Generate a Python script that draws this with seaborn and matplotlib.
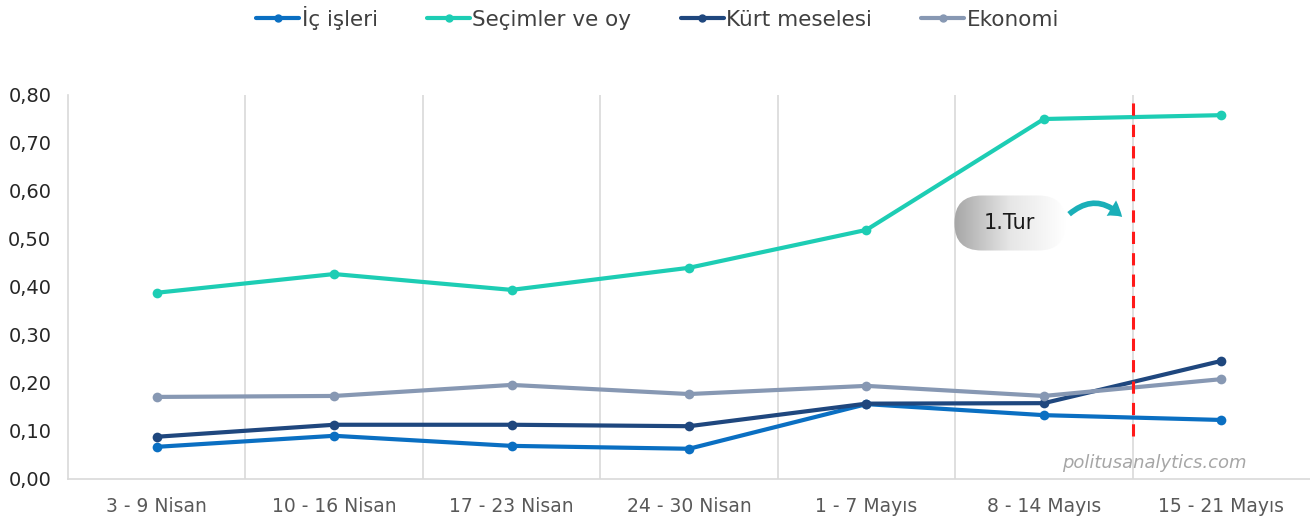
import numpy as np
import pandas as pd
import matplotlib
matplotlib.use("Agg")
import matplotlib.pyplot as plt
import seaborn as sns
from matplotlib.patches import FancyBboxPatch, FancyArrowPatch
from matplotlib.colors import LinearSegmentedColormap

categories = ["3 - 9 Nisan", "10 - 16 Nisan", "17 - 23 Nisan", "24 - 30 Nisan",
              "1 - 7 Mayıs", "8 - 14 Mayıs", "15 - 21 Mayıs"]
ic_isleri = [0.067, 0.090, 0.069, 0.063, 0.156, 0.133, 0.123]
secimler = [0.388, 0.427, 0.394, 0.440, 0.519, 0.750, 0.758]
kurt = [0.088, 0.113, 0.113, 0.110, 0.157, 0.158, 0.246]
ekonomi = [0.171, 0.173, 0.196, 0.177, 0.194, 0.173, 0.208]
series_names = ["İç işleri", "Seçimler ve oy", "Kürt meselesi", "Ekonomi"]
yticks = [0.0, 0.1, 0.2, 0.3, 0.4, 0.5, 0.6, 0.7, 0.8]

colors = ["#0A6FC2", "#1DCDB4", "#1F477E", "#8798B3"]

sns.set_style("white")
plt.rcParams['font.family'] = ['DejaVu Sans']

rows = []
for name, vals in zip(series_names, [ic_isleri, secimler, kurt, ekonomi]):
    for i, v in enumerate(vals):
        rows.append({"idx": i, "val": v, "series": name})
df = pd.DataFrame(rows)

fig = plt.figure(figsize=(13.1, 5.25), dpi=100)
ax = fig.add_axes([68 / 1310, (525 - 479) / 525, 1 - 68 / 1310, (479 - 95) / 525])

sns.lineplot(data=df, x="idx", y="val", hue="series", palette=colors,
             hue_order=series_names, marker="o", markersize=7, markeredgewidth=0,
             linewidth=3, ax=ax, legend=False)

ax.set_xlim(-0.5, 6.5)
ax.set_ylim(0, 0.8)
ax.set_xticks(range(len(categories)))
ax.set_xticklabels(categories, fontsize=13.5, color="#595959")
ax.set_yticks(yticks)
ax.set_yticklabels([f"{t:.2f}".replace(".", ",") for t in yticks], fontsize=14, color="#262626")
ax.tick_params(axis="y", pad=12, length=0)
ax.tick_params(axis="x", pad=13, length=0)
ax.set_xlabel("")
ax.set_ylabel("")
for b in np.arange(0.5, 6.5, 1.0):
    ax.axvline(b, color="#D9D9D9", lw=1.2, zorder=0)
for s in ["top", "right"]:
    ax.spines[s].set_visible(False)
for s in ["left", "bottom"]:
    ax.spines[s].set_color("#D9D9D9")
    ax.spines[s].set_linewidth(1.2)

# red dashed line
ax.plot([5.5, 5.5], [0.09, 0.8], color="#FF1A1A", lw=2.2, ls=(0, (4, 3)), zorder=5)

# watermark
ax.text(5.62, 0.033, "politusanalytics.com", fontsize=13, style="italic",
        color="#A6A6A6", ha="center", va="center")

# legend
handles = [plt.Line2D([0], [0], color=c, lw=3, marker="o", markersize=5) for c in colors]
fig.legend(handles, series_names, loc="center", bbox_to_anchor=(0.502, 1 - 18 / 525),
           ncol=4, frameon=False, fontsize=15.5, handlelength=2.0, handletextpad=0.1,
           columnspacing=2.3, labelcolor="#404040")

# 1.Tur pill with gradient
bw, bh = 112, 56
bax = fig.add_axes([954 / 1310, (525 - 251) / 525, bw / 1310, bh / 525])
bax.set_xlim(0, bw)
bax.set_ylim(0, bh)
bax.axis("off")
cmap = LinearSegmentedColormap.from_list("g", ["#A6A6A6", "#E6E6E6", "#FFFFFF"])
grad = np.linspace(0, 1, 256)[None, :]
im = bax.imshow(grad, extent=[0, bw, 0, bh], cmap=cmap, aspect="auto")
pill = FancyBboxPatch((0.5, 0.5), bw - 1, bh - 1, boxstyle="round,pad=0,rounding_size=27",
                      fc="none", ec="none", transform=bax.transData)
bax.add_patch(pill)
im.set_clip_path(pill)
bax.text(bw / 2 - 1, bh / 2, "1.Tur", fontsize=15, color="#1A1A1A", ha="center", va="center")

# arrow
arr = FancyArrowPatch(posA=(1067 / 1310, 1 - 216 / 525), posB=(1124 / 1310, 1 - 219 / 525),
                      transform=fig.transFigure, connectionstyle="arc3,rad=-0.5",
                      arrowstyle="simple,head_length=10,head_width=13,tail_width=4",
                      color="#1AAFB8", lw=0)
fig.patches.append(arr)

fig.savefig("out.png", dpi=100)
